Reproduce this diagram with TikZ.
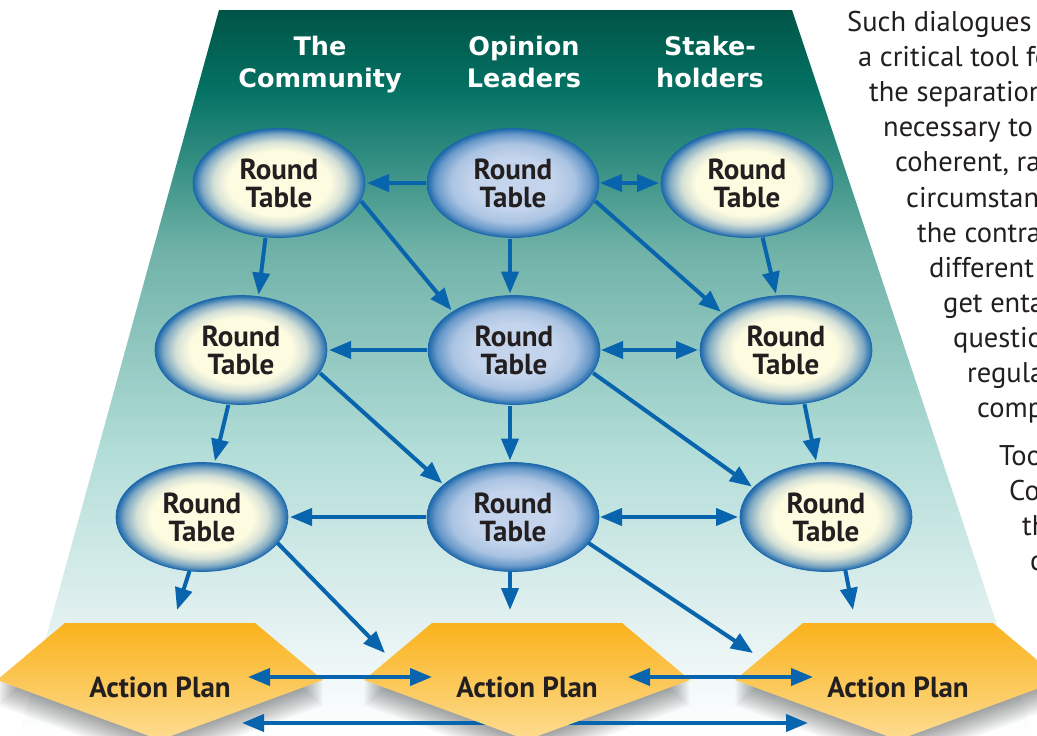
\documentclass[tikz,border=0pt]{standalone}
\usepackage{fontspec}
\setmainfont{PT Sans}
\newfontfamily\hdrfont{DejaVu Sans}
\usetikzlibrary{arrows.meta,shapes.geometric}
\definecolor{arrowblue}{RGB}{8,100,172}
\definecolor{rimblue}{RGB}{28,104,172}
\definecolor{yelc}{RGB}{253,251,224}
\definecolor{bluec}{RGB}{196,212,236}
\definecolor{txt}{RGB}{35,31,32}
\definecolor{bgA}{RGB}{0,84,70}
\definecolor{bgB}{RGB}{4,114,100}
\definecolor{bgC}{RGB}{112,178,168}
\definecolor{bgD}{RGB}{178,221,216}
\definecolor{bgE}{RGB}{226,241,240}
\definecolor{apTop}{RGB}{250,178,28}
\definecolor{apBot}{RGB}{253,220,145}
\pgfdeclarelayer{bglayer}
\pgfdeclarelayer{midlayer}
\pgfsetlayers{bglayer,midlayer,main}
\pgfdeclareradialshading{yelball}{\pgfpoint{0bp}{0bp}}{color(0bp)=(yelc); color(15bp)=(yelc); color(19bp)=(yelc!82!rimblue); color(22.5bp)=(yelc!45!rimblue); color(25bp)=(rimblue); color(50bp)=(rimblue)}
\pgfdeclareradialshading{blueball}{\pgfpoint{0bp}{0bp}}{color(0bp)=(bluec); color(12bp)=(bluec); color(18bp)=(bluec!85!rimblue); color(22.5bp)=(bluec!45!rimblue); color(25bp)=(rimblue); color(50bp)=(rimblue)}
\begin{document}
\begin{tikzpicture}[x=1pt,y=-1pt,
  rt/.style={ellipse, minimum width=172pt, minimum height=109pt, inner sep=0pt, outer sep=0pt,
    draw=rimblue, line width=0.7pt, font=\bfseries\fontsize{29}{28}\selectfont, text=txt, align=center},
  rty/.style={rt, shade, shading=yelball},
  rtb/.style={rt, shade, shading=blueball},
  arr/.style={draw=arrowblue, line width=4pt, -{Triangle[length=22pt,width=17pt]}},
  dbl/.style={draw=arrowblue, line width=4pt, {Triangle[length=22pt,width=17pt]}-{Triangle[length=22pt,width=17pt]}},
  gap/.style={shorten >=2pt, shorten <=1pt},
  hdr/.style={anchor=base, inner sep=0pt, text=white, font=\hdrfont\bfseries\fontsize{25.5}{30}\selectfont},
  aptext/.style={inner sep=0pt, text=txt, font=\bfseries\fontsize{29}{30}\selectfont},
  body/.style={anchor=base west, inner sep=0pt, text=txt, font=\fontsize{28.5}{35}\selectfont},
  apshape/.style={top color=apTop, bottom color=apBot},
]
\useasboundingbox (0,0) rectangle (1037,736);
\begin{pgfonlayer}{bglayer}
  \fill[white] (0,0) rectangle (1037,736);
  \begin{scope}
    \clip (219,10) -- (792,10) -- (1034,736) -- (19,736) -- cycle;
    \shade[top color=bgA, bottom color=bgB] (0,9) rectangle (1037,90.5);
    \shade[top color=bgB, bottom color=bgC] (0,90) rectangle (1037,250.5);
    \shade[top color=bgC, bottom color=bgD] (0,250) rectangle (1037,450.5);
    \shade[top color=bgD, bottom color=bgE] (0,450) rectangle (1037,620.5);
    \shade[top color=bgE, bottom color=white] (0,620) rectangle (1037,737);
  \end{scope}
  \foreach \c in {160,527,898} {
    \foreach \k in {1,...,10} {
      \fill[black, opacity=0.04] (\c-95,623+2.5*\k) -- (\c+95,623+2.5*\k) -- (\c+163,680+2.5*\k) -- (\c,740+2.5*\k) -- (\c-163,680+2.5*\k) -- cycle;
    }
  }
\end{pgfonlayer}

% action plan shapes
\foreach \c in {160,527,898} {
  \shade[apshape] (\c-95,623) -- (\c+95,623) -- (\c+163,680) -- (\c,740) -- (\c-163,680) -- cycle;
}
\node[aptext] (a1) at (160,687) {Action Plan};
\node[aptext] (a2) at (527,687) {Action Plan};
\node[aptext] (a3) at (898,687) {Action Plan};

% headers
\node[hdr] (h1a) at (320,55) {The};
\node[hdr] (h1b) at (320,87) {Community};
\node[hdr] (h2a) at (524,55) {Opinion};
\node[hdr] (h2b) at (524,87) {Leaders};
\node[hdr] (h3a) at (710,55) {Stake-};
\node[hdr] (h3b) at (710,87) {holders};

% round tables
\node[rty] (l1) at (279,183) {Round\\Table};
\node[rtb] (m1) at (513,183) {Round\\Table};
\node[rty] (r1) at (747,183) {Round\\Table};
\node[rty] (l2) at (241,350) {Round\\Table};
\node[rtb] (m2) at (514,350) {Round\\Table};
\node[rty] (r2) at (786,350) {Round\\Table};
\node[rty] (l3) at (202,517) {Round\\Table};
\node[rtb] (m3) at (513,517) {Round\\Table};
\node[rty] (r3) at (826,517) {Round\\Table};

% row 1 arrows
\draw[arr,gap] (m1.west) -- (l1.east);
\draw[dbl,gap] (m1.east) -- (r1.west);
\draw[arr,gap] (l1.-104) -- (l2.72);
\draw[arr,gap] (l1.-12) -- (m2.148);
\draw[arr,gap] ([xshift=-3pt]m1.south) -- ([xshift=-4pt]m2.north);
\draw[arr,gap] (m1.-12) -- (r2.150);
\draw[arr,gap] (r1.-74) -- (r2.100);
% row 2 arrows
\draw[arr,gap] (m2.west) -- (l2.east);
\draw[dbl,gap] (m2.east) -- (r2.west);
\draw[arr,gap] (l2.-103) -- (l3.77);
\draw[arr,gap] (l2.-16) -- (m3.155);
\draw[arr,gap] ([xshift=-4pt]m2.south) -- ([xshift=-3pt]m3.north);
\draw[arr,gap] (m2.-16) -- (r3.158);
\draw[arr,gap] (r2.-71) -- (r3.100);
% row 3 arrows
\draw[arr,gap] (m3.west) -- (l3.east);
\draw[dbl,gap] (m3.east) -- (r3.west);
\draw[arr] (l3.-103) -- ([shift={(17pt,77pt)}]a1.center);
\draw[arr] (l3.-19) -- ([shift={(-142pt,34pt)}]a2.center);
\draw[arr] ([xshift=-3pt]m3.south) -- ([shift={(-17pt,77pt)}]a2.center);
\draw[arr] (m3.-19) -- ([shift={(-145pt,34pt)}]a3.center);
\draw[arr] (r3.-70) -- ([shift={(-45pt,77pt)}]a3.center);
% action plan links
\draw[dbl] ([shift={(88pt,10pt)}]a1.center) -- ([shift={(-95pt,10pt)}]a2.center);
\draw[dbl] ([shift={(101pt,10pt)}]a2.center) -- ([shift={(-85pt,10pt)}]a3.center);
\begin{pgfonlayer}{midlayer}
\draw[dbl] ([shift={(82pt,-36pt)}]a1.center) -- ([shift={(-90pt,-36pt)}]a3.center);
\end{pgfonlayer}

% side text
\node[body] (t1) at (847,31.5) {Such dialogues};
\node[body] (t2) at (858,66.6) {a critical tool fo};
\node[body] (t3) at (869,101.7) {the separation};
\node[body] (t4) at (883,136.8) {necessary to};
\node[body] (t5) at (895,171.9) {coherent, ra};
\node[body] (t6) at (906,207) {circumstan};
\node[body] (t7) at (917,242.1) {the contra};
\node[body] (t8) at (929,277.2) {different};
\node[body] (t9) at (943,312.3) {get enta};
\node[body] (t10) at (953,347.4) {questio};
\node[body] (t11) at (967,382.5) {regula};
\node[body] (t12) at (977,417.6) {comp};
\node[body] (t13) at (999,465) {Too};
\node[body] (t14) at (1009,500) {Co};
\node[body] (t15) at (1022,535) {th};
\node[body] (t16) at (1030,570) {c};
\end{tikzpicture}
\end{document}
